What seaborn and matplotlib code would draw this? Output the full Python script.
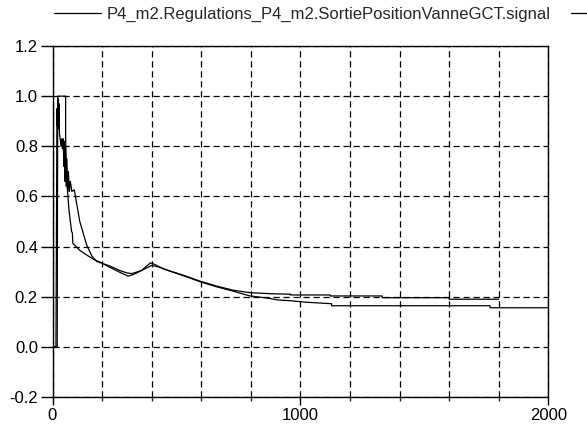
import matplotlib
matplotlib.use("Agg")
import matplotlib.pyplot as plt
from matplotlib.ticker import MultipleLocator, FixedLocator
import seaborn as sns
import pandas as pd

# ---- data ----
a_time = [0, 19, 21, 53, 53, 56, 60, 66, 77, 80, 82, 110, 140, 171, 192, 230, 270,
          306, 330, 370, 400, 430, 480, 530, 595, 660, 729, 797, 864, 910, 960,
          1000, 1025, 1126, 1126, 1765, 1765, 2000]
a_value = [0.0, 0.0, 1.0, 1.0, 0.825, 0.72, 0.63, 0.55, 0.46, 0.455, 0.413, 0.385, 0.365,
           0.346, 0.338, 0.318, 0.298, 0.282, 0.29, 0.31, 0.325, 0.318, 0.30, 0.283,
           0.26, 0.24, 0.222, 0.203, 0.195, 0.187, 0.184, 0.18, 0.178, 0.172, 0.164,
           0.164, 0.156, 0.156]

b_time = [0, 14, 18, 20, 22, 24, 26, 28, 31, 34, 37, 40, 43, 46, 48, 50, 52, 55, 58,
          61, 64, 68, 72, 78, 88, 110, 138, 160, 180, 230, 270, 300, 320, 360, 395,
          410, 450, 530, 595, 660, 729, 797, 880, 960, 960, 1120, 1120, 1330, 1330,
          1600, 1600, 1800]
b_value = [0.0, 0.0, 0.95, 0.88, 0.99, 0.87, 0.97, 0.85, 0.83, 0.80, 0.83, 0.79, 0.83,
           0.72, 0.82, 0.66, 0.80, 0.64, 0.75, 0.62, 0.70, 0.62, 0.66, 0.62, 0.626,
           0.50, 0.406, 0.36, 0.34, 0.323, 0.305, 0.295, 0.292, 0.305, 0.335, 0.33,
           0.31, 0.285, 0.262, 0.243, 0.226, 0.216, 0.212, 0.21, 0.207, 0.207, 0.203,
           0.203, 0.196, 0.196, 0.19, 0.19]

series_label = "P4_m2.Regulations_P4_m2.SortiePositionVanneGCT.signal"
x_major = [0, 1000, 2000]
y_ticks = [-0.2, 0.0, 0.2, 0.4, 0.6, 0.8, 1.0, 1.2]

df_a = pd.DataFrame({"time": a_time, "value": a_value})
df_b = pd.DataFrame({"time": b_time, "value": b_value})

sns.set_theme(style="white")
plt.rcParams["font.family"] = ["Liberation Sans", "DejaVu Sans"]

fig = plt.figure(figsize=(5.87, 4.28), dpi=100)
ax = fig.add_axes([52.5 / 587, 1 - 397 / 428, (548.3 - 52.5) / 587, (397 - 46) / 428])

sns.lineplot(data=df_a, x="time", y="value", ax=ax, color="black", lw=0.9,
             sort=False, estimator=None)
sns.lineplot(data=df_b, x="time", y="value", ax=ax, color="black", lw=0.9,
             sort=False, estimator=None)

ax.set_xlim(0, 2000)
ax.set_ylim(-0.2, 1.2)
ax.set_xlabel("")
ax.set_ylabel("")

ax.xaxis.set_major_locator(FixedLocator(x_major))
ax.xaxis.set_minor_locator(MultipleLocator(200))
ax.set_xticklabels([str(v) for v in x_major])
ax.set_yticks(y_ticks)
ax.set_yticklabels([f"{v:.1f}" for v in y_ticks])

ax.grid(which="both", color="black", linestyle=(0, (5, 3)), linewidth=0.9)
for s in ax.spines.values():
    s.set_visible(True)
    s.set_color("black")
    s.set_linewidth(1.0)

ax.tick_params(axis="y", which="major", direction="out", length=9, width=1.0,
               pad=1.5, labelsize=12, colors="black", left=True)
ax.tick_params(axis="x", which="major", direction="out", length=6, width=1.0,
               pad=2, labelsize=12, colors="black", bottom=True)
ax.tick_params(axis="x", which="minor", direction="out", length=3, width=1.0,
               bottom=True)

line_a = ax.lines[0]
line_b = ax.lines[1]
fig.legend([line_a, line_b], [series_label, ""], loc="center left",
           bbox_to_anchor=(54 / 587, 1 - 14 / 428), ncol=2, frameon=False,
           fontsize=12, handlelength=2.8, handletextpad=0.37, columnspacing=1.2,
           borderpad=0, borderaxespad=0)

fig.savefig("out.png", dpi=100, facecolor="white")
